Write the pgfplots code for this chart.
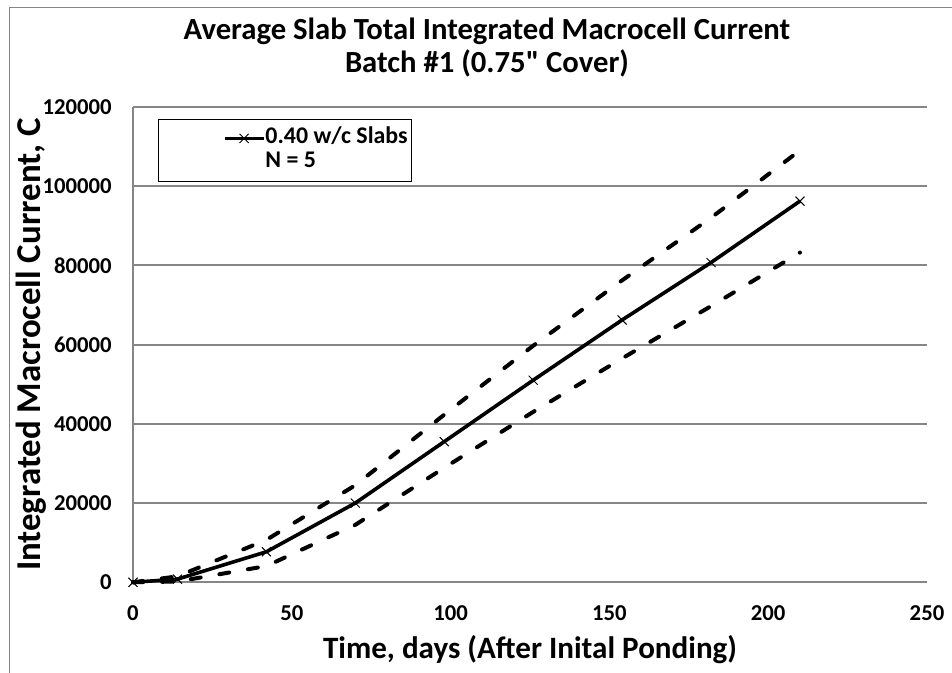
\documentclass[border=0pt]{standalone}
\usepackage{fontspec}
\setmainfont{Carlito}
\usepackage{pgfplots}
\pgfplotsset{compat=1.18}
\definecolor{gridgray}{RGB}{134,134,134}
\pgfplotsset{my legend/.style={legend image code/.code={\path[draw=none,fill=none] (-31bp,0bp) -- (0bp,0bp);
    \draw[mark repeat=2,mark phase=2,##1] plot coordinates {(0bp,0bp) (9.75bp,0bp) (19.5bp,0bp)};}}}
\begin{document}
\begin{tikzpicture}
\useasboundingbox (0,0) rectangle (476bp,336.5bp);
\draw[gridgray, line width=0.6bp] (4.75bp,0) -- (4.75bp,332.75bp) -- (476bp,332.75bp);
\begin{axis}[
  at={(66.5bp,45.35bp)}, anchor=south west,
  scale only axis, width=397bp, height=237.75bp,
  xmin=0, xmax=250, ymin=0, ymax=120000,
  xtick={0,50,100,150,200,250},
  ytick={0,20000,40000,60000,80000,100000,120000},
  scaled y ticks=false, scaled x ticks=false,
  /pgf/number format/assume math mode=true,
  yticklabel style={/pgf/number format/fixed, /pgf/number format/1000 sep={}, anchor=east, inner sep=0pt, xshift=-10.5bp},
  xticklabel style={anchor=north, inner sep=0pt, yshift=-11.35bp},
  tick label style={font=\bfseries\fontsize{11.4}{13}\selectfont},
  major tick length=0pt,
  axis x line*=bottom, axis y line*=left,
  axis line style={gridgray, line width=1bp, -},
  ymajorgrids, grid style={gridgray, line width=1bp},
  clip=false,
  title={Average Slab Total Integrated Macrocell Current\\Batch \#1 (0.75\textquotedbl{} Cover)},
  title style={at={(axis description cs:0.4458,1.1632)}, anchor=north, align=center, inner sep=0pt, font=\bfseries\fontsize{15.4}{16.5}\selectfont},
  xlabel={Time, days (After Inital Ponding)},
  xlabel style={at={(axis description cs:0.5,-0.1598)}, anchor=base, inner sep=0pt, font=\bfseries\fontsize{15.6}{18}\selectfont},
  ylabel={Integrated Macrocell Current, C},
  ylabel style={at={(axis description cs:-0.116,0.5)}, anchor=base, inner sep=0pt, font=\bfseries\fontsize{17.5}{20}\selectfont},
  legend style={at={(axis description cs:0.0315,0.9748)}, anchor=north west, draw=black, line width=0.6bp,
    inner xsep=2bp, inner ysep=4bp, row sep=1bp,
    font=\bfseries\fontsize{12}{13}\selectfont,
    nodes={inner sep=0pt, text height=8bp, text depth=3bp}},
  legend cell align=left,
]
% upper bound
\addplot[black, line width=2bp, dash pattern=on 5bp off 9.5bp, line cap=round, forget plot] coordinates {
(0,0) (14,1500) (42,10700) (70,24500) (98,42300) (126,59700) (154,76200) (182,92000) (210,109000)};
% lower bound
\addplot[black, line width=2bp, dash pattern=on 5bp off 9.5bp, line cap=round, forget plot] coordinates {
(0,0) (14,200) (42,4100) (70,14500) (98,28900) (126,43000) (154,56500) (182,69700) (210,83200)};
% mean
\addplot[black, line width=1.8bp, mark=x, mark size=3.2bp, mark options={line width=0.5bp, solid}, my legend]
 coordinates {
(0,0) (14,800) (42,7700) (70,20000) (98,35500) (126,51000) (154,66200) (182,80700) (210,96200)};
\addlegendentry{0.40 w/c Slabs}
\addlegendimage{empty legend}
\addlegendentry{N = 5}
\end{axis}
\end{tikzpicture}
\end{document}
